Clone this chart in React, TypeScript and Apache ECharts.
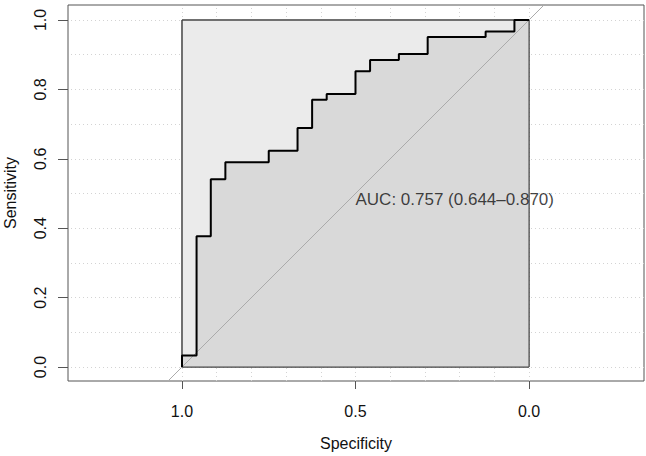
import { useEffect, useRef } from "react";
import * as echarts from "echarts";

// ROC curve vertices (step function), specificity decreasing / sensitivity increasing
const specificity = [
  1, 1, 0.958, 0.958, 0.917, 0.917, 0.875, 0.875, 0.75, 0.75, 0.667, 0.667,
  0.625, 0.625, 0.583, 0.583, 0.5, 0.5, 0.458, 0.458, 0.375, 0.375, 0.292,
  0.292, 0.125, 0.125, 0.042, 0.042, 0,
];
const sensitivity = [
  0, 0.033, 0.033, 0.377, 0.377, 0.541, 0.541, 0.59, 0.59, 0.623, 0.623,
  0.689, 0.689, 0.77, 0.77, 0.787, 0.787, 0.852, 0.852, 0.885, 0.885, 0.902,
  0.902, 0.951, 0.951, 0.967, 0.967, 1, 1,
];

const xTicks = [1, 0.5, 0];
const yTicks = [0, 0.2, 0.4, 0.6, 0.8, 1];
const gridSteps = [0, 0.1, 0.2, 0.3, 0.4, 0.5, 0.6, 0.7, 0.8, 0.9, 1];

const aucText = "AUC: 0.757 (0.644\u20130.870)";
const aucAnchor = [0.5, 0.482];

// chance line end points (clipped by the plot region)
const chanceLine = [
  [1.2, -0.2],
  [-0.2, 1.2],
];

const FONT = "'Liberation Sans', Arial, Helvetica, sans-serif";
const TEXT = "#111111";

export default function App() {
  const ref = useRef<HTMLDivElement>(null);

  useEffect(() => {
    if (!ref.current) return;
    const chart = echarts.init(ref.current, null, { renderer: "svg" });

    const curve = specificity.map((s, i) => [s, sensitivity[i]]);
    const square = [[{ coord: [1, 0] }, { coord: [0, 1] }]];

    chart.setOption({
      animation: false,
      backgroundColor: "#ffffff",
      textStyle: { fontFamily: FONT },
      grid: {
        left: 68,
        right: 2,
        top: 5,
        bottom: 75,
        containLabel: false,
        outerBoundsMode: "none",
        show: true,
        borderColor: "#555555",
        borderWidth: 1,
        backgroundColor: "transparent",
      },
      xAxis: {
        type: "value",
        inverse: true,
        min: -0.3314,
        max: 1.3285,
        axisLine: { show: false, onZero: false },
        axisTick: {
          show: true,
          customValues: xTicks,
          length: 8,
          lineStyle: { color: "#555555", width: 1 },
        },
        axisLabel: {
          customValues: xTicks,
          formatter: (v: number) => v.toFixed(1),
          fontSize: 16,
          color: TEXT,
          margin: 22,
          fontFamily: FONT,
        },
        splitLine: { show: false },
        name: "Specificity",
        nameLocation: "middle",
        nameGap: 54,
        nameTextStyle: { fontSize: 16, color: TEXT, fontFamily: FONT },
      },
      yAxis: {
        type: "value",
        min: -0.0403,
        max: 1.0432,
        axisLine: { show: false, onZero: false },
        axisTick: {
          show: true,
          customValues: yTicks,
          length: 10,
          lineStyle: { color: "#555555", width: 1 },
        },
        axisLabel: {
          customValues: yTicks,
          formatter: (v: number) => v.toFixed(1),
          fontSize: 16,
          color: TEXT,
          margin: 20,
          rotate: 90,
          fontFamily: FONT,
        },
        splitLine: { show: false },
        name: "Sensitivity",
        nameLocation: "middle",
        nameGap: 50,
        nameTextStyle: { fontSize: 16, color: TEXT, fontFamily: FONT },
      },
      series: [
        {
          // dotted background grid
          type: "line",
          data: [],
          z: 1,
          silent: true,
          markLine: {
            z: 1,
            silent: true,
            symbol: ["none", "none"],
            label: { show: false },
            lineStyle: { type: [1, 3], color: "#d3d3d3", width: 1 },
            data: [
              ...gridSteps.map((v) => ({ xAxis: v })),
              ...gridSteps.map((v) => ({ yAxis: v })),
            ],
          },
        },
        {
          // unit square behind the curve
          type: "line",
          data: [],
          z: 2,
          silent: true,
          markArea: {
            z: 2,
            silent: true,
            itemStyle: {
              color: "#ebebeb",
              opacity: 1,
              borderColor: "#444444",
              borderWidth: 1,
              borderType: "solid",
            },
            data: square,
          },
        },
        {
          // area under the ROC curve
          type: "line",
          data: curve,
          z: 3,
          silent: true,
          symbol: "none",
          lineStyle: { width: 0 },
          areaStyle: { color: "#d9d9d9", opacity: 1 },
        },
        {
          // square outline drawn again over the filled area
          type: "line",
          data: [],
          z: 4,
          silent: true,
          markArea: {
            z: 4,
            silent: true,
            itemStyle: {
              color: "rgba(0,0,0,0)",
              borderColor: "#444444",
              borderWidth: 1,
              borderType: "solid",
            },
            data: square,
          },
        },
        {
          type: "line",
          data: chanceLine,
          z: 5,
          silent: true,
          symbol: "none",
          clip: true,
          lineStyle: { color: "#ababab", width: 1 },
        },
        {
          type: "line",
          data: curve,
          z: 6,
          silent: true,
          symbol: "none",
          lineStyle: { color: "#000000", width: 2 },
        },
        {
          type: "scatter",
          data: [aucAnchor],
          z: 7,
          silent: true,
          symbolSize: 0,
          itemStyle: { color: "transparent" },
          label: {
            show: true,
            position: "right",
            distance: 0,
            formatter: aucText,
            fontSize: 17,
            color: TEXT,
            fontFamily: FONT,
          },
        },
      ],
    });

    return () => chart.dispose();
  }, []);

  return (
    <div
      ref={ref}
      style={{ position: "absolute", left: 0, top: 0, width: 646, height: 456 }}
    />
  );
}
